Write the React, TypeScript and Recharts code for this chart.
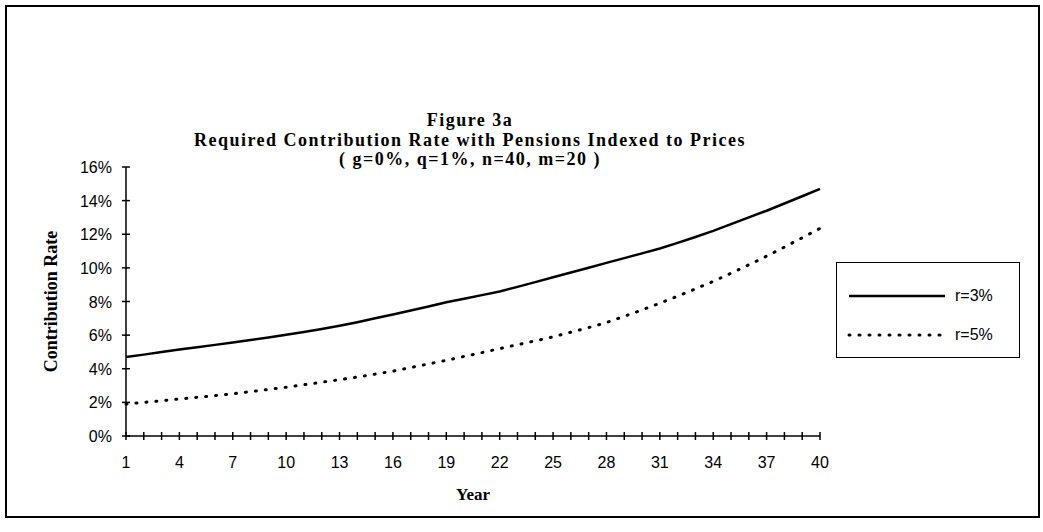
import { LineChart, Line, XAxis, YAxis } from 'recharts';

const years = Array.from({ length: 40 }, (_, i) => i + 1);
const yearLabels = [1, 4, 7, 10, 13, 16, 19, 22, 25, 28, 31, 34, 37, 40];
const rateTicks = [0, 2, 4, 6, 8, 10, 12, 14, 16];
const seriesNames = ['r=3%', 'r=5%'];
const titleLines = ['Figure 3a', 'Required Contribution Rate with Pensions Indexed to Prices', '( g=0%, q=1%, n=40, m=20 )'];

// contribution rate (%), years 1..40
const r3 = [
  4.7, 4.84, 4.99, 5.14, 5.28, 5.42, 5.56, 5.71, 5.86, 6.02,
  6.19, 6.37, 6.56, 6.77, 7.0, 7.23, 7.46, 7.7, 7.95, 8.16,
  8.38, 8.6, 8.87, 9.15, 9.44, 9.72, 10.01, 10.3, 10.58, 10.86,
  11.15, 11.49, 11.84, 12.2, 12.6, 13.0, 13.4, 13.83, 14.26, 14.7,
];
const r5 = [
  1.9, 2.0, 2.1, 2.2, 2.3, 2.4, 2.51, 2.64, 2.77, 2.9,
  3.05, 3.2, 3.35, 3.51, 3.68, 3.86, 4.07, 4.28, 4.5, 4.73,
  4.96, 5.2, 5.43, 5.66, 5.9, 6.17, 6.45, 6.75, 7.12, 7.5,
  7.9, 8.32, 8.75, 9.2, 9.68, 10.18, 10.7, 11.24, 11.79, 12.35,
];

const data = years.map((y, i) => ({ year: y, r3: r3[i], r5: r5[i] }));

const tickFont = "'Liberation Sans', Arial, sans-serif";
const serif = "'Liberation Serif', 'Times New Roman', serif";

const XTick = (props: any) => {
  const { x, y, payload } = props;
  const v = payload.value;
  return (
    <g>
      <line x1={x} x2={x} y1={y - 4} y2={y + 4} stroke="#000" strokeWidth={1.5} />
      {yearLabels.includes(v) && (
        <text x={x} y={y + 32} textAnchor="middle" fontSize={16} fontFamily={tickFont} fill="#000">
          {v}
        </text>
      )}
    </g>
  );
};

const YTick = (props: any) => {
  const { x, y, payload } = props;
  return (
    <g>
      <line x1={x - 4} x2={x + 4} y1={y} y2={y} stroke="#000" strokeWidth={1.5} />
      <text x={x - 14} y={y + 6} textAnchor="end" fontSize={16} fontFamily={tickFont} fill="#000">
        {payload.value}%
      </text>
    </g>
  );
};

function LegendBox() {
  return (
    <div style={{ position: 'absolute', left: 836, top: 262, width: 184, height: 96, border: '1.5px solid #000', boxSizing: 'border-box', background: '#fff', paddingTop: 13 }}>
      {seriesNames.map((name, i) => (
        <div key={name} style={{ display: 'flex', alignItems: 'center', height: 39 }}>
          <svg width={108} height={10} style={{ marginLeft: 10 }}>
            <line x1={2} x2={98} y1={5} y2={5} stroke="#000" strokeLinecap={i ? 'round' : 'butt'}
              strokeWidth={i ? 3 : 2.5} strokeDasharray={i ? '1 9' : undefined} />
          </svg>
          <span style={{ fontFamily: tickFont, fontSize: 16 }}>{name}</span>
        </div>
      ))}
    </div>
  );
}

export default function App() {
  return (
    <div style={{ position: 'absolute', left: 0, top: 0, width: 1043, height: 532, background: '#fff' }}>
      <div style={{ position: 'absolute', left: 5, top: 5, width: 1035, height: 513, border: '2px solid #000', boxSizing: 'border-box' }} />
      <div style={{ position: 'absolute', left: 0, top: 110, width: 940, textAlign: 'center', fontFamily: serif, fontWeight: 'bold', fontSize: 18, letterSpacing: 1.5, lineHeight: '20.5px' }}>
        {titleLines.map((t) => (
          <div key={t} style={{ height: 19.5 }}>{t}</div>
        ))}
      </div>
      <div style={{ position: 'absolute', left: 0, top: 0 }}>
        <LineChart width={1043} height={532} data={data} margin={{ top: 167, right: 223, bottom: 0, left: 0 }}>
          <XAxis dataKey="year" type="number" domain={[1, 40]} ticks={years} interval={0}
            tick={<XTick />} tickSize={0} tickMargin={0} tickLine={false} height={96}
            axisLine={{ stroke: '#000', strokeWidth: 1.5 }}
            label={{ value: 'Year', position: 'center', dy: 10, fontFamily: serif, fontWeight: 'bold', fontSize: 17, fill: '#000' }} />
          <YAxis domain={[0, 16]} ticks={rateTicks} interval={0} width={126}
            tick={<YTick />} tickSize={0} tickMargin={0} tickLine={false}
            axisLine={{ stroke: '#000', strokeWidth: 1.5 }}
            label={{ value: 'Contribution Rate', angle: -90, position: 'center', dx: -12, fontFamily: serif, fontWeight: 'bold', fontSize: 18, fill: '#000' }} />
          <Line dataKey="r3" name={seriesNames[0]} stroke="#000" strokeWidth={2.5} dot={false} isAnimationActive={false} />
          <Line dataKey="r5" name={seriesNames[1]} stroke="#000" strokeWidth={3} strokeDasharray="1 9" strokeLinecap="round" dot={false} isAnimationActive={false} />
        </LineChart>
      </div>
      <LegendBox />
    </div>
  );
}
